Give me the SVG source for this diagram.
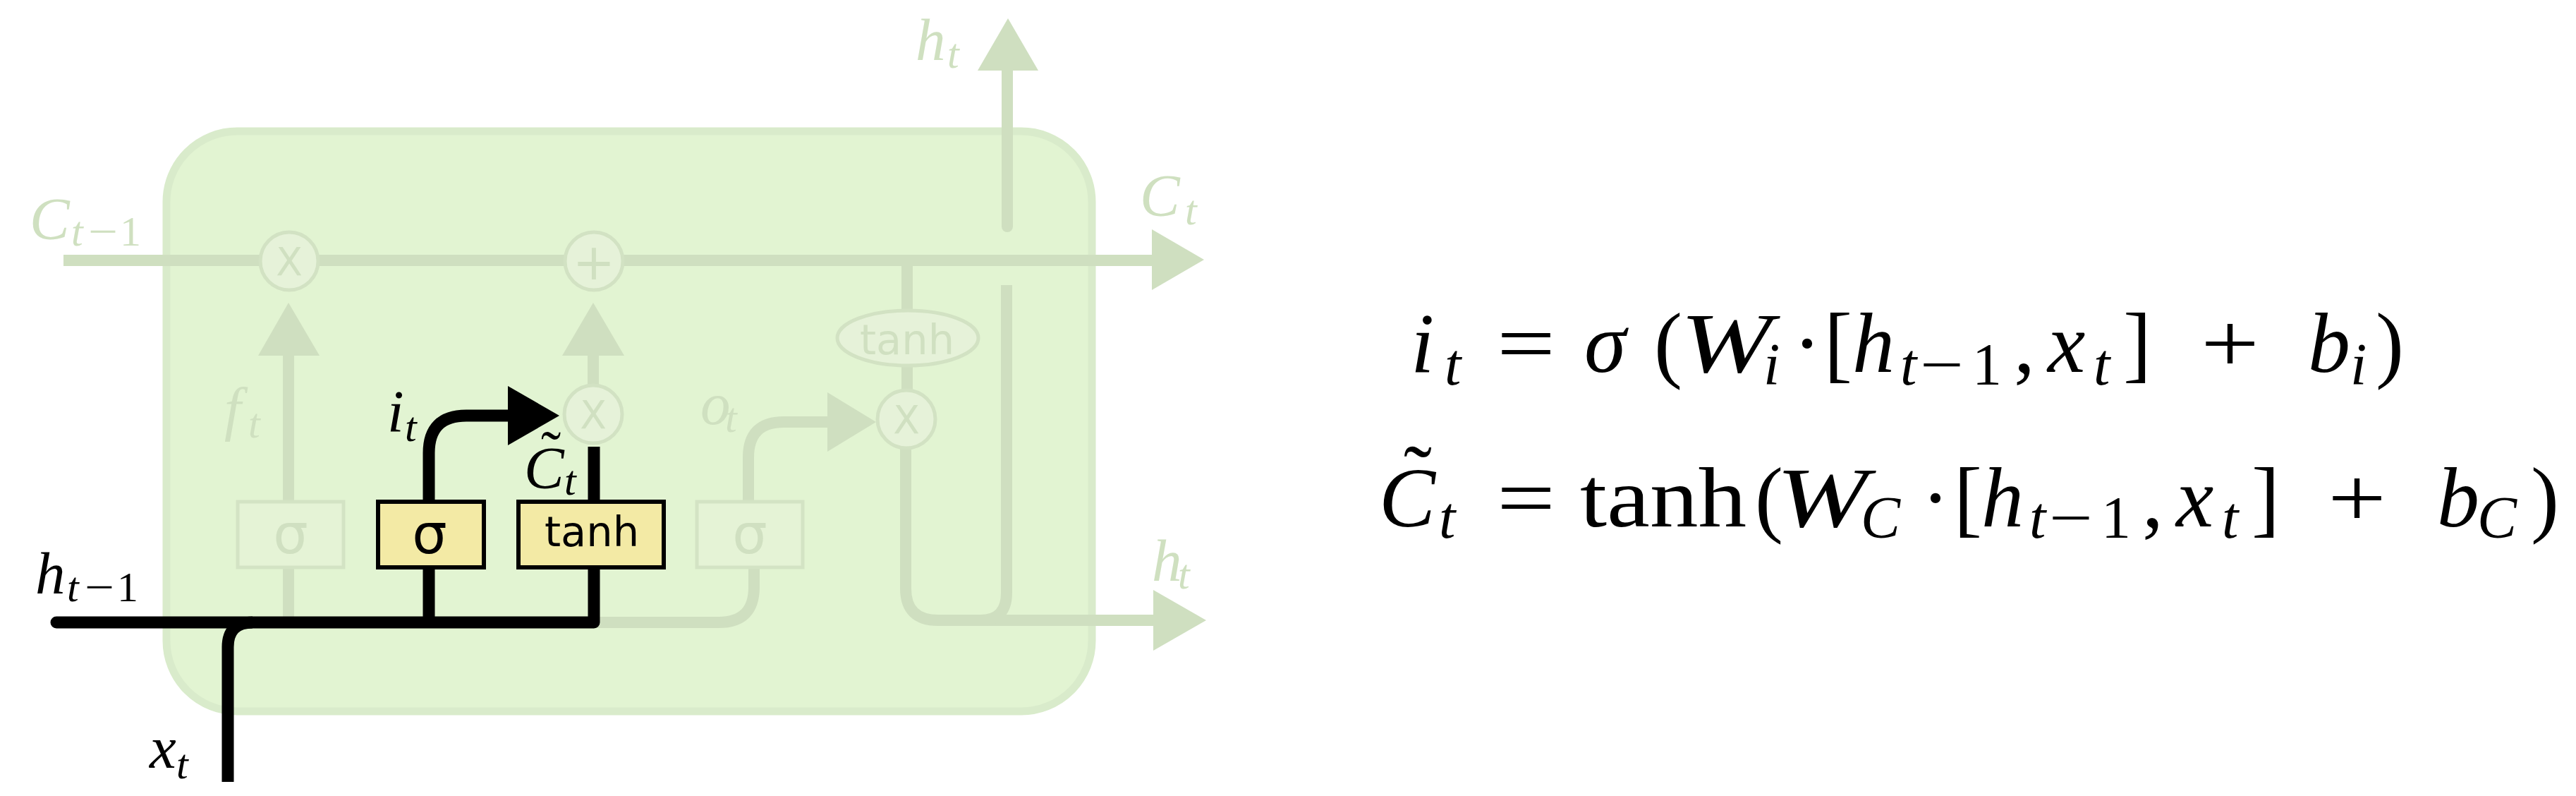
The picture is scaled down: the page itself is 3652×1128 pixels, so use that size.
<svg xmlns="http://www.w3.org/2000/svg" width="3652" height="1128" viewBox="0 0 3652 1128">
<style>
.fl{fill:none;stroke:#cfdfc0;stroke-width:16}
.fa{fill:#cfdfc0}
.bl{fill:none;stroke:#000;stroke-width:17}
.ba{fill:#000}
.op{fill:#e6f2d9;stroke:#d2e2c3;stroke-width:5}
.fgate{fill:#e5f3d6;stroke:#d3e3c4;stroke-width:5}
.bgate{fill:#f3eaa5;stroke:#000;stroke-width:6}
.sans{font-family:"DejaVu Sans",sans-serif}
.fsym{fill:#d0e0c1}
.mi{font-family:"Liberation Serif",serif;font-style:italic}
.mr{font-family:"Liberation Serif",serif}
.lbl{font-size:85px}
.sub{font-size:60px}
.eq{font-size:120px}
.esub{font-size:84px}
.faded{fill:#cfe0c0}
.dark{fill:#000}
</style>
<rect width="3652" height="1128" fill="#fff"/>
<g id="cell">
<rect x="236" y="186" width="1312" height="822" rx="100" ry="100" fill="#e2f4d2" stroke="#d9ebcb" stroke-width="11"/>
</g>
<g id="connectors">
<path class="fl" d="M90 369 H1640"/>
<polygon class="fa" points="1633,325 1707,368 1633,411"/>
<path class="fl" d="M409 711 V500"/>
<polygon class="fa" points="366,504 409,429 453,504"/>
<path class="fl" d="M409 804 V882"/>
<path class="fl" d="M841 545 V500"/>
<polygon class="fa" points="797,504 841,429 885,504"/>
<path class="fl" d="M842 882 H1019 Q1069 882 1069 832 V804"/>
<path class="fl" d="M1061 711 V648 Q1061 598 1111 598 H1180"/>
<polygon class="fa" points="1173,556 1242,598 1173,640"/>
<path class="fl" d="M1286 377 V442"/>
<path class="fl" d="M1286 516 V555"/>
<path class="fl" d="M1284 632 V834 Q1284 879 1330 879 H1640"/>
<polygon class="fa" points="1635,836 1710,879 1635,922"/>
<path class="fl" d="M1427 404 V840 Q1427 879 1390 879"/>
<path class="fl" d="M1428 321 V95" stroke-linecap="round"/>
<polygon class="fa" points="1386,100 1429,26 1472,100"/>
<path class="bl" d="M80 882 H842 V804" stroke-linecap="round" stroke-linejoin="round"/>
<path class="bl" d="M323 1108 V917 Q323 882 358 882"/>
<path class="bl" d="M608 882 V804"/>
<path class="bl" d="M608 711 V642 Q608 589 661 589 H725"/>
<polygon class="ba" points="720,547 793,589 720,631"/>
<path class="bl" d="M842 711 V633"/>
</g>
<g id="forget-multiply">
<circle class="op" cx="410" cy="370" r="41"/>
<text class="sans fsym" x="410" y="390" font-size="55" text-anchor="middle">X</text>
</g>
<g id="plus">
<circle class="op" cx="842" cy="370" r="41"/>
<text class="sans fsym" x="842" y="396" font-size="72" text-anchor="middle">+</text>
</g>
<g id="input-multiply">
<circle class="op" cx="841" cy="587" r="41"/>
<text class="sans fsym" x="841" y="607" font-size="55" text-anchor="middle">X</text>
</g>
<g id="output-multiply">
<circle class="op" cx="1285" cy="594" r="41"/>
<text class="sans fsym" x="1285" y="614" font-size="55" text-anchor="middle">X</text>
</g>
<g id="tanh-out">
<ellipse class="op" cx="1287" cy="479" rx="100" ry="39"/>
<text class="sans fsym" x="1286" y="502" font-size="59" text-anchor="middle">tanh</text>
</g>
<g id="forget-gate">
<rect class="fgate" x="337" y="711" width="150" height="93"/>
<text class="sans fsym" x="412" y="784" font-size="78" text-anchor="middle">σ</text>
</g>
<g id="input-gate">
<rect class="bgate" x="536" y="711" width="150" height="93"/>
<text class="sans dark" x="609" y="784" font-size="78" text-anchor="middle">σ</text>
</g>
<g id="candidate-gate">
<rect class="bgate" x="735" y="711" width="206" height="93"/>
<text class="sans dark" x="839" y="774" font-size="59" text-anchor="middle">tanh</text>
</g>
<g id="output-gate">
<rect class="fgate" x="988" y="711" width="150" height="93"/>
<text class="sans fsym" x="1063" y="784" font-size="78" text-anchor="middle">σ</text>
</g>
<g id="labels">
<text class="mi lbl faded" x="42" y="339">C</text>
<text class="mi sub faded" x="101" y="348">t</text>
<text class="mr sub faded" x="125" y="348" textLength="42" lengthAdjust="spacingAndGlyphs">−</text>
<text class="mr sub faded" x="170" y="348">1</text>
<text class="mi lbl faded" x="1616" y="306">C</text>
<text class="mi sub faded" x="1680" y="318">t</text>
<text class="mi lbl faded" x="1298" y="85">h</text>
<text class="mi sub faded" x="1343" y="96">t</text>
<text class="mi lbl faded" x="1633" y="823">h</text>
<text class="mi sub faded" x="1670" y="834">t</text>
<text class="mi lbl faded" x="318" y="608">f</text>
<text class="mi sub faded" x="352" y="620">t</text>
<text class="mi lbl faded" x="993" y="601">o</text>
<text class="mi sub faded" x="1028" y="612">t</text>
<text class="mi lbl dark" x="549" y="612">i</text>
<text class="mi sub dark" x="574" y="625">t</text>
<text class="mi lbl dark" x="743" y="692">C</text>
<text class="mr lbl dark" x="767" y="669">˜</text>
<text class="mi sub dark" x="800" y="701">t</text>
<text class="mi lbl dark" x="50" y="841">h</text>
<text class="mi sub dark" x="95" y="852">t</text>
<text class="mr sub dark" x="120" y="852" textLength="42" lengthAdjust="spacingAndGlyphs">−</text>
<text class="mr sub dark" x="166" y="852">1</text>
<text class="mi lbl dark" x="212" y="1088">x</text>
<text class="mi sub dark" x="250" y="1103">t</text>
</g>
<g id="equation-input">
<text class="mi eq dark" x="2000" y="527">i</text>
<text class="mi esub dark" x="2048" y="545">t</text>
<text class="mr eq dark" x="2122" y="527" textLength="83" lengthAdjust="spacingAndGlyphs">=</text>
<text class="mi eq dark" x="2246" y="527">σ</text>
<text class="mr eq dark" x="2345" y="527">(</text>
<text class="mi eq dark" x="2382" y="527" textLength="130" lengthAdjust="spacingAndGlyphs">W</text>
<text class="mi esub dark" x="2500" y="545">i</text>
<text class="mr eq dark" x="2542" y="527">·</text>
<text class="mr eq dark" x="2586" y="527">[</text>
<text class="mi eq dark" x="2626" y="527">h</text>
<text class="mi esub dark" x="2694" y="545">t</text>
<text class="mr esub dark" x="2722" y="545" textLength="62" lengthAdjust="spacingAndGlyphs">−</text>
<text class="mr esub dark" x="2796" y="545">1</text>
<text class="mr eq dark" x="2855" y="527">,</text>
<text class="mi eq dark" x="2903" y="527">x</text>
<text class="mi esub dark" x="2968" y="545">t</text>
<text class="mr eq dark" x="3010" y="527">]</text>
<text class="mr eq dark" x="3120" y="527" textLength="83" lengthAdjust="spacingAndGlyphs">+</text>
<text class="mi eq dark" x="3272" y="527">b</text>
<text class="mi esub dark" x="3332" y="545">i</text>
<text class="mr eq dark" x="3368" y="527">)</text>
</g>
<g id="equation-candidate">
<text class="mi eq dark" x="1955" y="746">C</text>
<text class="mr eq dark" x="1990" y="714">˜</text>
<text class="mi esub dark" x="2040" y="762">t</text>
<text class="mr eq dark" x="2122" y="746" textLength="83" lengthAdjust="spacingAndGlyphs">=</text>
<text class="mr eq dark" x="2240" y="746" textLength="236" lengthAdjust="spacingAndGlyphs">tanh</text>
<text class="mr eq dark" x="2488" y="746">(</text>
<text class="mi eq dark" x="2518" y="746" textLength="130" lengthAdjust="spacingAndGlyphs">W</text>
<text class="mi esub dark" x="2638" y="762">C</text>
<text class="mr eq dark" x="2724" y="746">·</text>
<text class="mr eq dark" x="2770" y="746">[</text>
<text class="mi eq dark" x="2809" y="746">h</text>
<text class="mi esub dark" x="2877" y="762">t</text>
<text class="mr esub dark" x="2905" y="762" textLength="62" lengthAdjust="spacingAndGlyphs">−</text>
<text class="mr esub dark" x="2979" y="762">1</text>
<text class="mr eq dark" x="3037" y="746">,</text>
<text class="mi eq dark" x="3085" y="746">x</text>
<text class="mi esub dark" x="3150" y="762">t</text>
<text class="mr eq dark" x="3192" y="746">]</text>
<text class="mr eq dark" x="3300" y="746" textLength="83" lengthAdjust="spacingAndGlyphs">+</text>
<text class="mi eq dark" x="3455" y="746">b</text>
<text class="mi esub dark" x="3512" y="762">C</text>
<text class="mr eq dark" x="3588" y="746">)</text>
</g>
</svg>
